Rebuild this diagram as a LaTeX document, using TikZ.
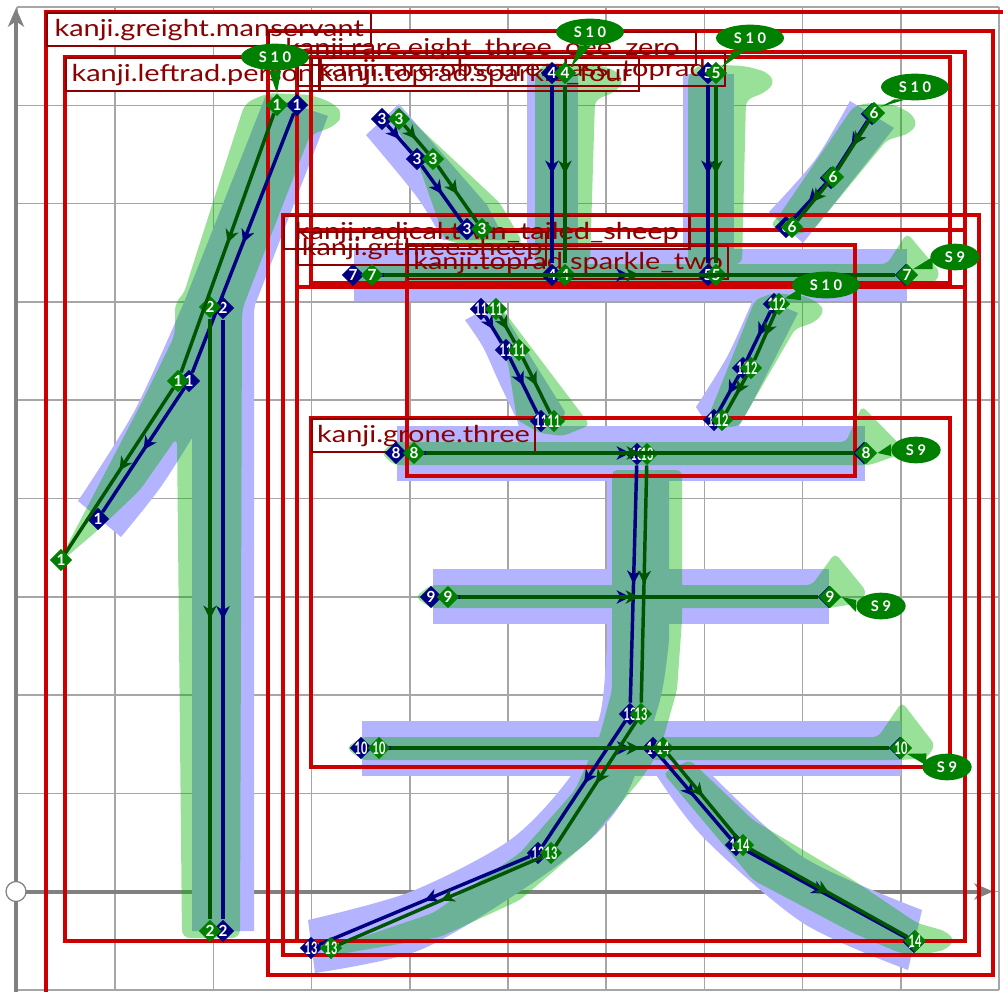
\documentclass[tikz,border=0pt]{standalone}
\usepackage{fontspec}
\setmainfont{Lato}
\setsansfont{Lato}
\newfontfamily\labelfont[FakeStretch=1.24]{Lato}
\usetikzlibrary{shapes.geometric,arrows.meta,decorations.markings}
\definecolor{gridgray}{HTML}{A6A6A6}
\definecolor{axisgray}{HTML}{808080}
\definecolor{boxred}{HTML}{CC0000}
\definecolor{labelred}{HTML}{8B0000}
\definecolor{strokeblue}{HTML}{B3B3FF}
\definecolor{strokegreen}{RGB}{0,178,0}
\definecolor{nodeblue}{HTML}{000080}
\definecolor{nodegreen}{HTML}{008000}
\definecolor{linegreen}{HTML}{005500}
\tikzset{
  gridline/.style={gridgray,line width=1.1pt},
  axisline/.style={axisgray,line width=3pt,-{Stealth[length=14pt,width=12pt,inset=4pt]}},
  kanjibox/.style={boxred,line width=2.4pt},
  kanjilabel/.style={anchor=north west,draw=labelred,line width=1.8pt,text=labelred,font=\labelfont\fontsize{17.5}{20}\selectfont,inner xsep=1pt,inner ysep=0pt,minimum height=24.75pt},
  midarrow/.style={postaction={decorate},decoration={markings,mark=at position 0.5 with {\arrow{Stealth[length=10pt,width=10pt,inset=3pt]}}}},
  blueline/.style={nodeblue,line width=2.6pt,midarrow},
  greenline/.style={linegreen,line width=2.6pt,midarrow},
  knode/.style={diamond,inner sep=0pt,minimum size=17pt,text=white,font=\fontsize{11.5}{12}\selectfont\bfseries},
  bnode/.style={knode,fill=nodeblue},
  gnode/.style={knode,fill=nodegreen},
  sbubble/.style={ellipse,fill=nodegreen,text=white,inner sep=0pt,minimum height=20pt,font=\fontsize{11}{12}\selectfont\bfseries},
  tenbubble/.style={sbubble,minimum width=51pt},
  ninebubble/.style={sbubble,minimum width=37pt},
}
\newcommand{\nn}[1]{\makebox[0pt]{\scalebox{0.72}[1.12]{#1}}}
\newcommand{\stail}[3]{\fill[nodegreen] ([#3=-4.5pt]#1) -- (#2) -- ([#3=4.5pt]#1) -- cycle;}
\begin{document}
\begin{tikzpicture}[x=0.75pt,y=-0.75pt]
  \useasboundingbox (0,0) rectangle (1003,992);
  \clip (0,0) rectangle (1003,992);
  \fill[white] (0,0) rectangle (1003,992);
  % grid and axes
  \foreach \gx in {17,115.2,213.4,311.6,409.8,508,606.2,704.4,802.6,900.8,999}
    \draw[gridline] (\gx,7) -- (\gx,990);
  \foreach \gy in {7,105.3,203.6,301.9,400.2,498.5,596.8,695.1,793.4,891.7,990}
    \draw[gridline] (17,\gy) -- (999,\gy);
  \draw[axisline] (16,891.5) -- (993,891.5);
  \draw[axisline] (16,992) -- (16,8);
  \draw[axisgray,fill=white,line width=0.9pt] (16,891.5) circle (10);
  % white behind the labels
  \fill[white] (46,12) rectangle (370,45);
  \fill[white] (65,57) rectangle (318,90);
  \fill[white] (268,31) rectangle (695,64);
  \fill[white] (297,52) rectangle (724,85);
  \fill[white] (311,57) rectangle (638,90);
  \fill[white] (283,215) rectangle (688,248);
  \fill[white] (297,231) rectangle (545,264);
  \fill[white] (407,245) rectangle (727,278);
  \fill[white] (311,418) rectangle (534,453);
  % blue glyph strokes
  \fill[strokeblue] (78,501) -- plot[smooth] coordinates {(78,501) (135,410) (185,300)} -- (266,95) -- (328,116) -- (255,305) -- (254,312) -- (254,931) -- (192,931) -- (192,438) -- plot[smooth] coordinates {(192,438) (160,488) (121,537)} -- cycle;
  \fill[strokeblue] (399,104) -- (487,205) -- (505,240) -- (443,240) -- plot[smooth] coordinates {(443,240) (417,197) (366,135)} -- cycle;
  \fill[strokeblue] (527,74) rectangle (578,250);
  \fill[strokeblue] (683,74) rectangle (734,250);
  \fill[strokeblue] (850,101) -- (894,128) -- (803,243) -- (769,212) -- plot[smooth] coordinates {(769,212) (815,160) (850,101)} -- cycle;
  \fill[strokeblue] (354,249) rectangle (907,301);
  \fill[strokeblue] (397,426) rectangle (865,481);
  \fill[strokeblue] (433,569) rectangle (829,624);
  \fill[strokeblue] (362,721) rectangle (901,776);
  \fill[strokeblue] (465,320) -- (497,303) -- (565,412) -- (560,430) -- (520,430) -- plot[smooth] coordinates {(517,420) (498,380) (483,347) (465,320)} -- cycle;
  \fill[strokeblue] (696,407) -- plot[smooth] coordinates {(696,407) (728,355) (755,295)} -- (798,313) -- (751,405) -- (739,426) -- (708,426) -- cycle;
  \fill[strokeblue] (607,470) -- plot[smooth] coordinates {(607,640) (600,715) (570,777) (510,840) (410,892) (308,920)} -- (315,973) -- plot[smooth] coordinates {(315,973) (420,950) (525,888) (595,835) (630,787) (660,700) (669,640)} -- (669,470) -- cycle;
  \fill[strokeblue] (653,768) -- plot[smooth] coordinates {(653,770) (703,837) (803,923) (908,970)} -- (922,910) -- plot[smooth] coordinates {(922,910) (803,857) (710,773)} -- cycle;
  % green glyph strokes
  \begin{scope}[transparency group,opacity=0.4]
    \fill[strokegreen,rounded corners=6pt] (57,565) -- (143,400) -- (175,335) -- (175,302) -- (183,296) -- (213,202) -- (245,103) -- (268,93) -- (312,95) -- (335,104) -- (343,115) -- (335,126) -- (310,135) -- (245,302) -- (242,310) -- (240,938) -- (182,938) -- (177,437) -- (140,490) -- (98,530) -- cycle;
    \fill[strokegreen,rounded corners=4pt] (396,106) -- (500,203) -- (523,243) -- (495,252) -- (445,240) -- (417,160) -- (392,122) -- cycle;
    \fill[strokegreen,rounded corners=5pt] (535,264) -- (535,75) -- (545,63) -- (598,65) -- (617,71) -- (624,82) -- (615,92) -- (595,100) -- (590,264) -- cycle;
    \fill[strokegreen,rounded corners=5pt] (688,264) -- (688,75) -- (700,64) -- (745,66) -- (767,72) -- (775,82) -- (766,92) -- (746,100) -- (742,264) -- cycle;
    \fill[strokegreen,rounded corners=4pt] (770,225) -- (778,217) -- (853,107) -- (867,103) -- (895,105) -- (912,114) -- (917,125) -- (908,134) -- (887,140) -- (813,230) -- (790,236) -- cycle;
    \fill[strokegreen,rounded corners=4pt] (346,275) -- (354,264) -- (887,264) -- (907,233) -- (940,272) -- (935,283) -- (907,287) -- (354,287) -- cycle;
    \fill[strokegreen,rounded corners=4pt] (381,453) -- (394,442) -- (846,442) -- (862,406) -- (907,452) -- (870,465) -- (394,465) -- cycle;
    \fill[strokegreen,rounded corners=4pt] (415,597) -- (431,585) -- (812,585) -- (835,553) -- (867,592) -- (860,603) -- (829,608) -- (431,608) -- cycle;
    \fill[strokegreen,rounded corners=4pt] (346,748) -- (362,737) -- (878,737) -- (902,702) -- (935,745) -- (927,758) -- (901,760) -- (362,760) -- cycle;
    \fill[strokegreen,rounded corners=4pt] (488,318) -- (500,306) -- (590,425) -- (563,436) -- (540,433) -- (517,420) -- (508,363) -- cycle;
    \fill[strokegreen,rounded corners=4pt] (707,420) -- (755,300) -- (773,293) -- (805,296) -- (820,304) -- (824,312) -- (815,322) -- (795,329) -- (739,426) -- (720,428) -- cycle;
    \fill[strokegreen,rounded corners=4pt] (330,948) -- (433,913) -- (520,853) -- (575,790) -- (600,735) -- (612,690) -- (612,470) -- (682,470) -- (682,620) -- (677,690) -- (660,750) -- (642,778) -- (590,840) -- (520,900) -- (440,937) -- (340,954) -- cycle;
    \fill[strokegreen,rounded corners=4pt] (663,773) -- (690,760) -- (753,820) -- (853,880) -- (917,923) -- (945,931) -- (955,940) -- (945,950) -- (925,954) -- (900,953) -- (853,933) -- (753,880) -- cycle;
  \end{scope}
  % boxes with their labels
  \draw[kanjibox] (46,12) rectangle (1015,1005);
  \draw[kanjibox] (268,31) rectangle (993,975);
  \draw[kanjibox] (297,52) rectangle (965,287);
  \draw[kanjibox] (65,57) rectangle (297,941);
  \draw[kanjibox] (311,57) rectangle (950,283);
  \draw[kanjibox] (283,215) rectangle (979,955);
  \draw[kanjibox] (297,230) rectangle (965,941);
  \draw[kanjibox] (407,245) rectangle (855,476);
  \draw[kanjibox] (311,418) rectangle (950,767);
  \node[kanjilabel,minimum width=243pt] (lgreight) at (46,12) {kanji.greight.manservant};
  \node[kanjilabel,minimum width=190pt] (lleftrad) at (65,57) {kanji.leftrad.person};
  \node[kanjilabel,minimum width=320pt] (lreight) at (268,31) {kanji.rare.eight\_three\_oee\_zero};
  \node[kanjilabel,minimum width=320pt] (lobscure) at (297,52) {kanji.rare.obscure.glass\_toprad};
  \node[kanjilabel,minimum width=245pt] (lsparkfour) at (311,57) {kanji.toprad.sparkle\_four};
  \node[kanjilabel,minimum width=304pt] (lradical) at (283,215) {kanji.radical.twin\_tailed\_sheep};
  \node[kanjilabel,minimum width=186pt] (lgrthree) at (297,231) {kanji.grthree.sheep};
  \node[kanjilabel,minimum width=240pt] (lsparktwo) at (407,245) {kanji.toprad.sparkle\_two};
  \node[kanjilabel,minimum width=167pt] (lgrone) at (311,418) {kanji.grone.three};
  % blue nodes
  \node[bnode] (b1a) at (297,105) {1};
  \node[bnode] (b1b) at (189,381) {1};
  \node[bnode] (b1c) at (98,519) {1};
  \node[bnode] (b2a) at (223,308) {2};
  \node[bnode] (b2b) at (223,931) {2};
  \node[bnode] (b3a) at (382,119) {3};
  \node[bnode] (b3b) at (417,159) {3};
  \node[bnode] (b3c) at (467,229) {3};
  \node[bnode] (b4a) at (552,73) {4};
  \node[bnode] (b4b) at (552,275) {4};
  \node[bnode] (b5a) at (708,73) {5};
  \node[bnode] (b5b) at (708,275) {5};
  \node[bnode] (b6a) at (872,114) {6};
  \node[bnode] (b6b) at (831,178) {6};
  \node[bnode] (b6c) at (786,227) {6};
  \node[bnode] (b7a) at (353,275) {7};
  \node[bnode] (b7b) at (906,275) {7};
  \node[bnode] (b8a) at (396,453) {8};
  \node[bnode] (b8b) at (864,453) {8};
  \node[bnode] (b9a) at (431,597) {9};
  \node[bnode] (b9b) at (829,597) {9};
  \node[bnode] (b10a) at (361,748) {\nn{10}};
  \node[bnode] (b10b) at (900,748) {\nn{10}};
  \node[bnode] (b11a) at (481,309) {\nn{11}};
  \node[bnode] (b11b) at (506,350) {\nn{11}};
  \node[bnode] (b11c) at (541,421) {\nn{11}};
  \node[bnode] (b12a) at (774,304) {\nn{12}};
  \node[bnode] (b12b) at (743,368) {\nn{12}};
  \node[bnode] (b12c) at (714,420) {\nn{12}};
  \node[bnode] (b13a) at (637,454) {\nn{13}};
  \node[bnode] (b13b) at (630,714) {\nn{13}};
  \node[bnode] (b13c) at (538,853) {\nn{13}};
  \node[bnode] (b13d) at (311,948) {\nn{13}};
  \node[bnode] (b14a) at (653,748) {\nn{14}};
  \node[bnode] (b14b) at (736,845) {\nn{14}};
  \node[bnode] (b14c) at (914,942) {\nn{14}};
  % blue lines
  \draw[blueline] (b1a) -- (b1b);
  \draw[blueline] (b1b) -- (b1c);
  \draw[blueline] (b2a) -- (b2b);
  \draw[blueline] (b3a) -- (b3b);
  \draw[blueline] (b3b) -- (b3c);
  \draw[blueline] (b4a) -- (b4b);
  \draw[blueline] (b5a) -- (b5b);
  \draw[blueline] (b6a) -- (b6b);
  \draw[blueline] (b6b) -- (b6c);
  \draw[blueline] (b7a) -- (b7b);
  \draw[blueline] (b8a) -- (b8b);
  \draw[blueline] (b9a) -- (b9b);
  \draw[blueline] (b10a) -- (b10b);
  \draw[blueline] (b11a) -- (b11b);
  \draw[blueline] (b11b) -- (b11c);
  \draw[blueline] (b12a) -- (b12b);
  \draw[blueline] (b12b) -- (b12c);
  \draw[blueline] (b13a) -- (b13b);
  \draw[blueline] (b13b) -- (b13c);
  \draw[blueline] (b13c) -- (b13d);
  \draw[blueline] (b14a) -- (b14b);
  \draw[blueline] (b14b) -- (b14c);
  % green nodes
  \node[gnode] (g1a) at (277,105) {1};
  \node[gnode] (g1b) at (178,381) {1};
  \node[gnode] (g1c) at (61,560) {1};
  \node[gnode] (g2a) at (210,307) {2};
  \node[gnode] (g2b) at (210,931) {2};
  \node[gnode] (g3a) at (399,119) {3};
  \node[gnode] (g3b) at (433,159) {3};
  \node[gnode] (g3c) at (482,229) {3};
  \node[gnode] (g4a) at (565,73) {4};
  \node[gnode] (g4b) at (565,275) {4};
  \node[gnode] (g5a) at (716,73) {5};
  \node[gnode] (g5b) at (716,275) {5};
  \node[gnode] (g6a) at (874,113) {6};
  \node[gnode] (g6b) at (833,177) {6};
  \node[gnode] (g6c) at (792,227) {6};
  \node[gnode] (g7a) at (372,275) {7};
  \node[gnode] (g7b) at (907,275) {7};
  \node[gnode] (g8a) at (414,453) {8};
  \node[gnode] (g8b) at (866,453) {8};
  \node[gnode] (g9a) at (448,597) {9};
  \node[gnode] (g9b) at (830,597) {9};
  \node[gnode] (g10a) at (379,748) {\nn{10}};
  \node[gnode] (g10b) at (901,748) {\nn{10}};
  \node[gnode] (g11a) at (496,309) {\nn{11}};
  \node[gnode] (g11b) at (519,350) {\nn{11}};
  \node[gnode] (g11c) at (554,421) {\nn{11}};
  \node[gnode] (g12a) at (779,304) {\nn{12}};
  \node[gnode] (g12b) at (751,368) {\nn{12}};
  \node[gnode] (g12c) at (722,420) {\nn{12}};
  \node[gnode] (g13a) at (647,454) {\nn{13}};
  \node[gnode] (g13b) at (641,714) {\nn{13}};
  \node[gnode] (g13c) at (551,853) {\nn{13}};
  \node[gnode] (g13d) at (331,948) {\nn{13}};
  \node[gnode] (g14a) at (663,748) {\nn{14}};
  \node[gnode] (g14b) at (743,845) {\nn{14}};
  \node[gnode] (g14c) at (915,941) {\nn{14}};
  % green lines
  \draw[greenline] (g1a) -- (g1b);
  \draw[greenline] (g1b) -- (g1c);
  \draw[greenline] (g2a) -- (g2b);
  \draw[greenline] (g3a) -- (g3b);
  \draw[greenline] (g3b) -- (g3c);
  \draw[greenline] (g4a) -- (g4b);
  \draw[greenline] (g5a) -- (g5b);
  \draw[greenline] (g6a) -- (g6b);
  \draw[greenline] (g6b) -- (g6c);
  \draw[greenline] (g7a) -- (g7b);
  \draw[greenline] (g8a) -- (g8b);
  \draw[greenline] (g9a) -- (g9b);
  \draw[greenline] (g10a) -- (g10b);
  \draw[greenline] (g11a) -- (g11b);
  \draw[greenline] (g11b) -- (g11c);
  \draw[greenline] (g12a) -- (g12b);
  \draw[greenline] (g12b) -- (g12c);
  \draw[greenline] (g13a) -- (g13b);
  \draw[greenline] (g13b) -- (g13c);
  \draw[greenline] (g13c) -- (g13d);
  \draw[greenline] (g14a) -- (g14b);
  \draw[greenline] (g14b) -- (g14c);
  % stroke type bubbles
  \node[tenbubble] (s1) at (275,57) {S 1 0};
  \node[tenbubble] (s4) at (590,32) {S 1 0};
  \node[tenbubble] (s5) at (750,38) {S 1 0};
  \node[tenbubble] (s6) at (915,87) {S 1 0};
  \node[tenbubble] (s12) at (826,285) {S 1 0};
  \node[ninebubble] (s7) at (955,257) {S 9};
  \node[ninebubble] (s8) at (916,450) {S 9};
  \node[ninebubble] (s9) at (881,606) {S 9};
  \node[ninebubble] (s10) at (947,767) {S 9};
  \stail{s1.south}{g1a.north}{xshift}
  \stail{s4.-110}{g4a.north east}{xshift}
  \stail{s5.-130}{g5a.north east}{xshift}
  \stail{s6.-140}{g6a.north east}{xshift}
  \stail{s12.-160}{g12a.north east}{yshift}
  \stail{s7.-165}{g7b.north east}{yshift}
  \stail{s8.west}{g8b.east}{yshift}
  \stail{s9.west}{g9b.east}{yshift}
  \stail{s10.160}{g10b.south east}{yshift}
\end{tikzpicture}
\end{document}
